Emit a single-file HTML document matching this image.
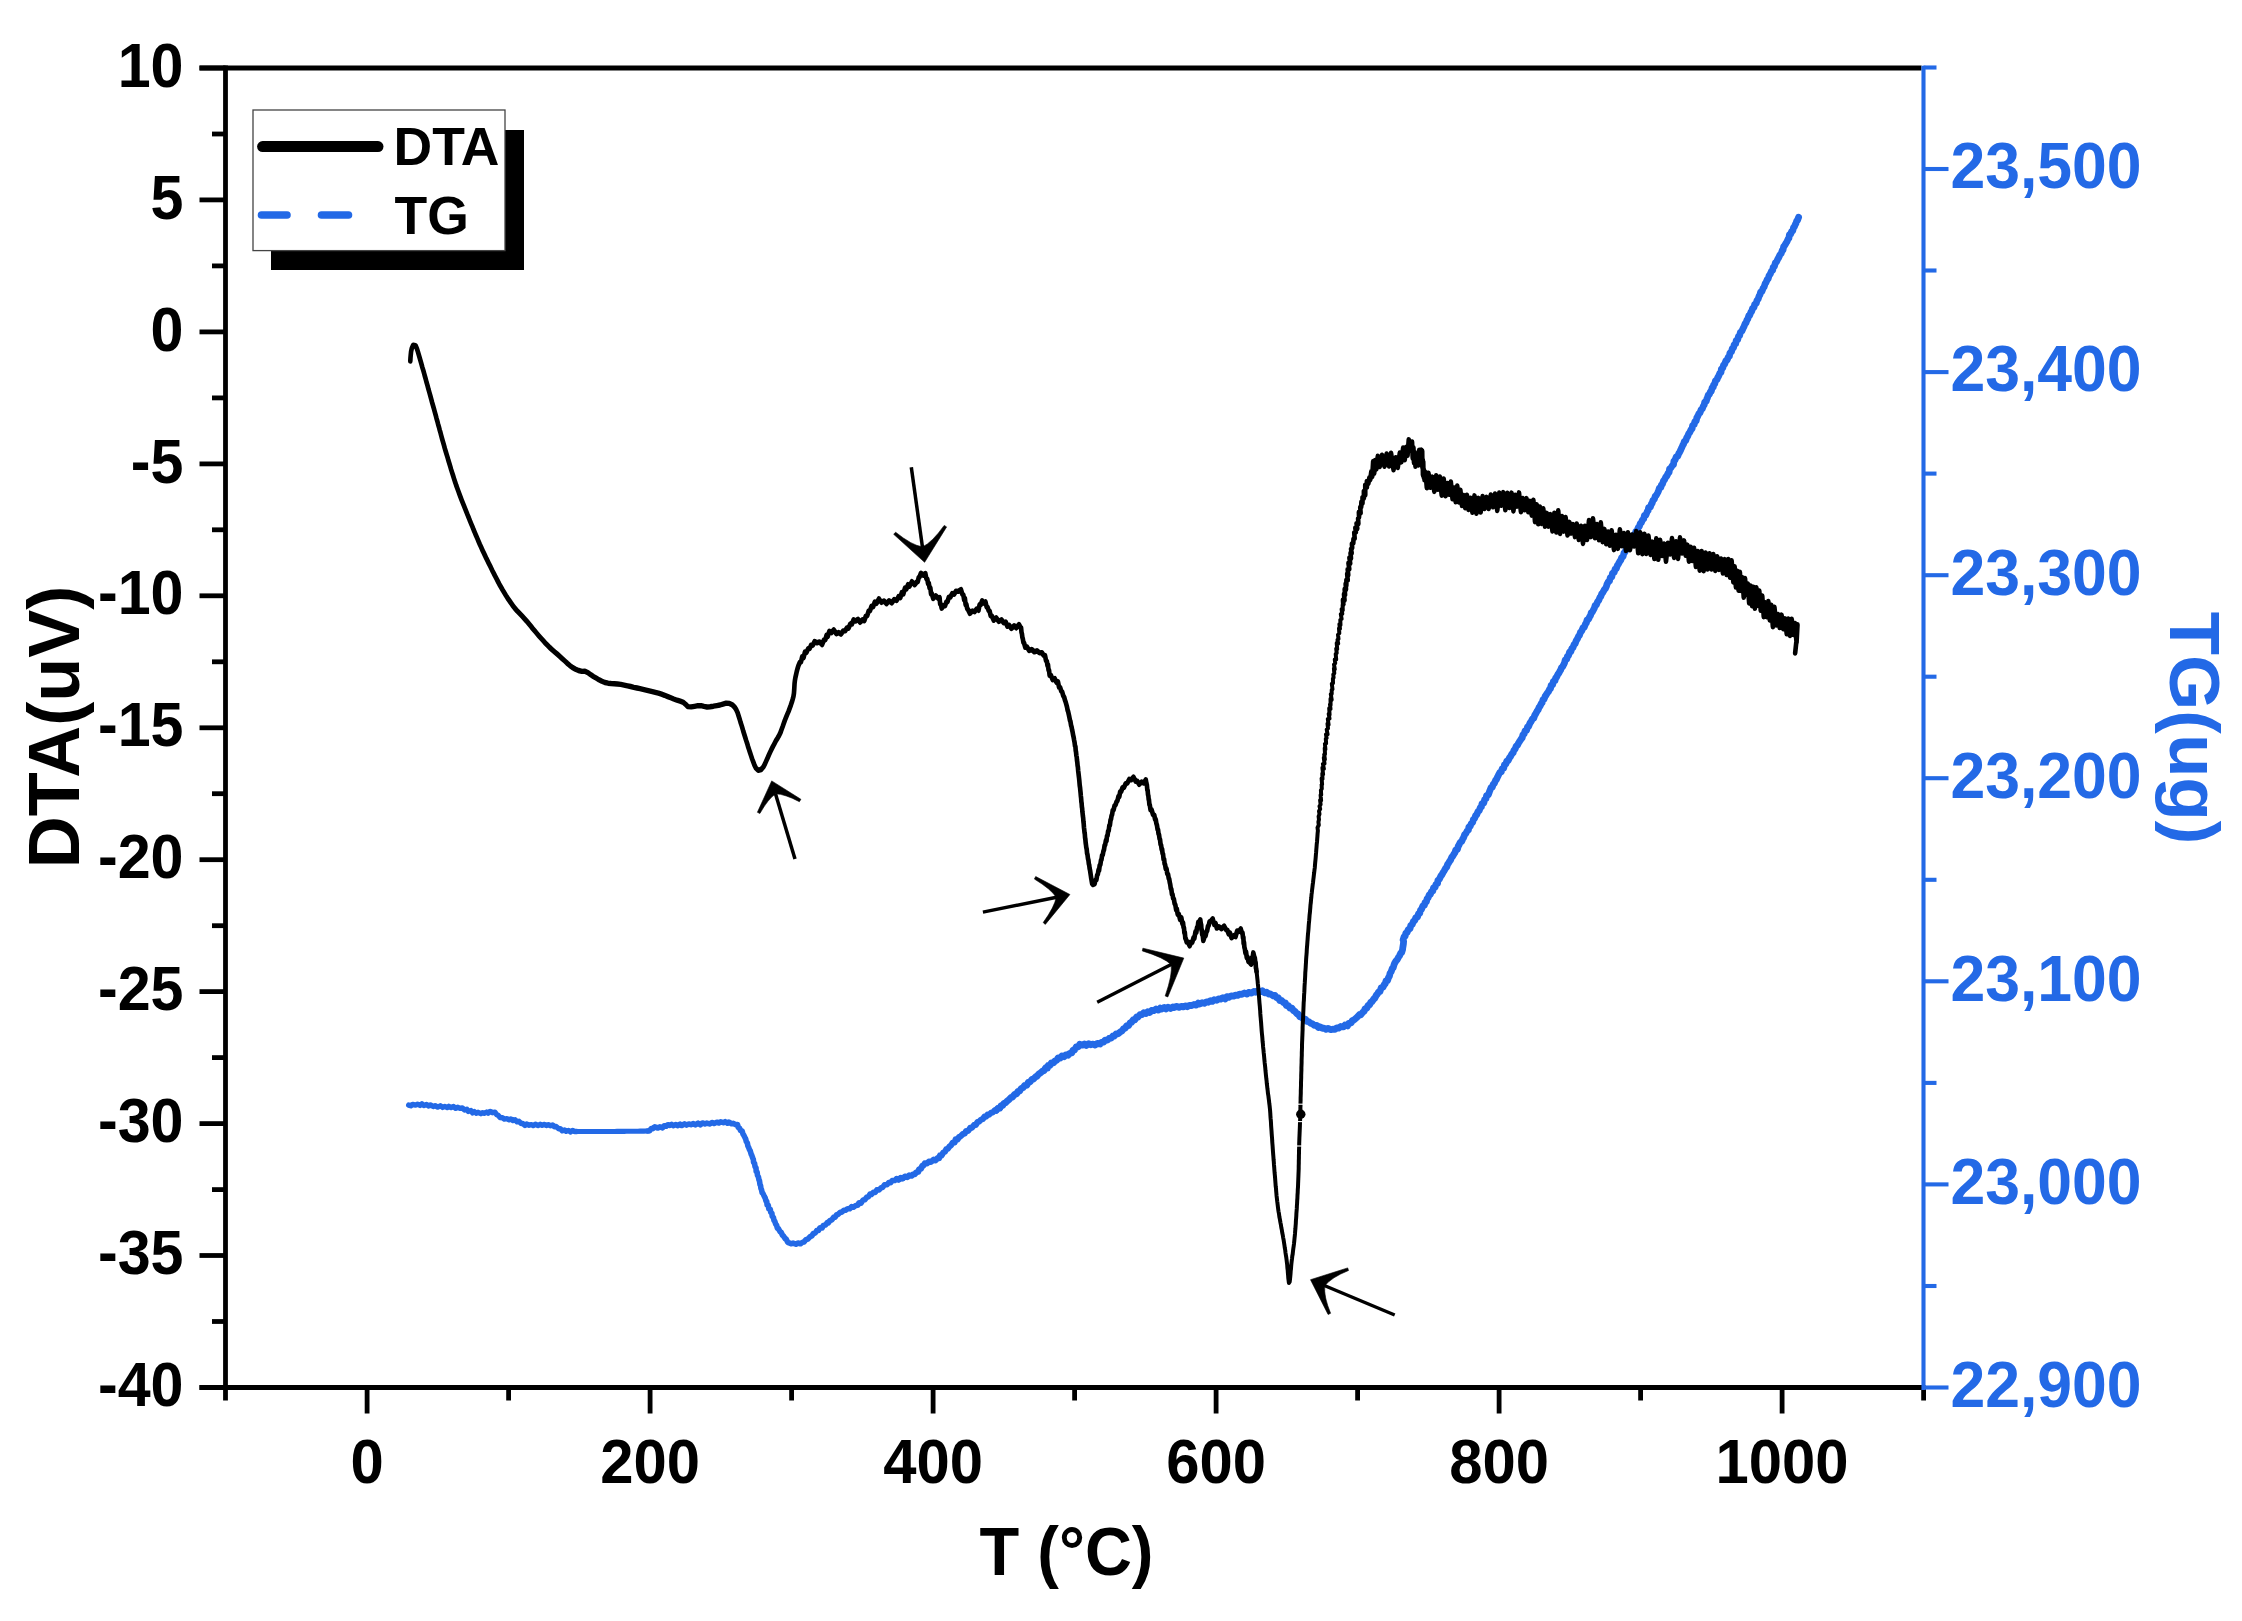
<!DOCTYPE html>
<html lang="en"><head><meta charset="utf-8"><title>DTA / TG</title>
<style>html,body{margin:0;padding:0;background:#fff}svg{display:block}</style></head>
<body>
<svg width="2242" height="1621" viewBox="0 0 2242 1621">
<rect width="2242" height="1621" fill="#fff"/>
<g stroke="#000" stroke-width="4.8" fill="none" stroke-linecap="butt">
<line x1="199.5" y1="68.0" x2="1921.5" y2="68.0"/>
<line x1="225.5" y1="65.6" x2="225.5" y2="1400.5"/>
<line x1="199.5" y1="1387.5" x2="1925.5" y2="1387.5"/>
<line x1="199.5" y1="68.0" x2="225.5" y2="68.0"/>
<line x1="212.0" y1="134.0" x2="225.5" y2="134.0"/>
<line x1="199.5" y1="199.9" x2="225.5" y2="199.9"/>
<line x1="212.0" y1="265.9" x2="225.5" y2="265.9"/>
<line x1="199.5" y1="331.9" x2="225.5" y2="331.9"/>
<line x1="212.0" y1="397.9" x2="225.5" y2="397.9"/>
<line x1="199.5" y1="463.9" x2="225.5" y2="463.9"/>
<line x1="212.0" y1="529.8" x2="225.5" y2="529.8"/>
<line x1="199.5" y1="595.8" x2="225.5" y2="595.8"/>
<line x1="212.0" y1="661.8" x2="225.5" y2="661.8"/>
<line x1="199.5" y1="727.8" x2="225.5" y2="727.8"/>
<line x1="212.0" y1="793.7" x2="225.5" y2="793.7"/>
<line x1="199.5" y1="859.7" x2="225.5" y2="859.7"/>
<line x1="212.0" y1="925.7" x2="225.5" y2="925.7"/>
<line x1="199.5" y1="991.6" x2="225.5" y2="991.6"/>
<line x1="212.0" y1="1057.6" x2="225.5" y2="1057.6"/>
<line x1="199.5" y1="1123.6" x2="225.5" y2="1123.6"/>
<line x1="212.0" y1="1189.6" x2="225.5" y2="1189.6"/>
<line x1="199.5" y1="1255.5" x2="225.5" y2="1255.5"/>
<line x1="212.0" y1="1321.5" x2="225.5" y2="1321.5"/>
<line x1="199.5" y1="1387.5" x2="225.5" y2="1387.5"/>
<line x1="367.1" y1="1387.5" x2="367.1" y2="1413.5"/>
<line x1="508.6" y1="1387.5" x2="508.6" y2="1400.5"/>
<line x1="650.1" y1="1387.5" x2="650.1" y2="1413.5"/>
<line x1="791.6" y1="1387.5" x2="791.6" y2="1400.5"/>
<line x1="933.1" y1="1387.5" x2="933.1" y2="1413.5"/>
<line x1="1074.6" y1="1387.5" x2="1074.6" y2="1400.5"/>
<line x1="1216.1" y1="1387.5" x2="1216.1" y2="1413.5"/>
<line x1="1357.6" y1="1387.5" x2="1357.6" y2="1400.5"/>
<line x1="1499.1" y1="1387.5" x2="1499.1" y2="1413.5"/>
<line x1="1640.6" y1="1387.5" x2="1640.6" y2="1400.5"/>
<line x1="1782.1" y1="1387.5" x2="1782.1" y2="1413.5"/>
<line x1="1923.6" y1="1387.5" x2="1923.6" y2="1400.5"/>
</g>
<g stroke="#2369e6" stroke-width="4.1" fill="none">
<line x1="1923.5" y1="65.7" x2="1923.5" y2="1390.0"/>
<line x1="1923.5" y1="1387.5" x2="1948.5" y2="1387.5"/>
<line x1="1923.5" y1="1286.0" x2="1936.5" y2="1286.0"/>
<line x1="1923.5" y1="1184.4" x2="1948.5" y2="1184.4"/>
<line x1="1923.5" y1="1082.9" x2="1936.5" y2="1082.9"/>
<line x1="1923.5" y1="981.3" x2="1948.5" y2="981.3"/>
<line x1="1923.5" y1="879.8" x2="1936.5" y2="879.8"/>
<line x1="1923.5" y1="778.2" x2="1948.5" y2="778.2"/>
<line x1="1923.5" y1="676.7" x2="1936.5" y2="676.7"/>
<line x1="1923.5" y1="575.2" x2="1948.5" y2="575.2"/>
<line x1="1923.5" y1="473.6" x2="1936.5" y2="473.6"/>
<line x1="1923.5" y1="372.1" x2="1948.5" y2="372.1"/>
<line x1="1923.5" y1="270.5" x2="1936.5" y2="270.5"/>
<line x1="1923.5" y1="169.0" x2="1948.5" y2="169.0"/>
<line x1="1923.5" y1="67.5" x2="1936.5" y2="67.5"/>
</g>
<g font-family="'Liberation Sans', Arial, Helvetica, sans-serif" font-weight="bold" font-size="59.2" fill="#000">
<text transform="translate(183.5 86.6) scale(1 1.05)" text-anchor="end">10</text>
<text transform="translate(183.5 218.5) scale(1 1.05)" text-anchor="end">5</text>
<text transform="translate(183.5 350.5) scale(1 1.05)" text-anchor="end">0</text>
<text transform="translate(183.5 482.5) scale(1 1.05)" text-anchor="end">-5</text>
<text transform="translate(183.5 614.4) scale(1 1.05)" text-anchor="end">-10</text>
<text transform="translate(183.5 746.4) scale(1 1.05)" text-anchor="end">-15</text>
<text transform="translate(183.5 878.3) scale(1 1.05)" text-anchor="end">-20</text>
<text transform="translate(183.5 1010.2) scale(1 1.05)" text-anchor="end">-25</text>
<text transform="translate(183.5 1142.2) scale(1 1.05)" text-anchor="end">-30</text>
<text transform="translate(183.5 1274.1) scale(1 1.05)" text-anchor="end">-35</text>
<text transform="translate(183.5 1406.1) scale(1 1.05)" text-anchor="end">-40</text>
<text transform="translate(367.1 1483) scale(1 1.05)" text-anchor="middle" font-size="59.8">0</text>
<text transform="translate(650.1 1483) scale(1 1.05)" text-anchor="middle" font-size="59.8">200</text>
<text transform="translate(933.1 1483) scale(1 1.05)" text-anchor="middle" font-size="59.8">400</text>
<text transform="translate(1216.1 1483) scale(1 1.05)" text-anchor="middle" font-size="59.8">600</text>
<text transform="translate(1499.1 1483) scale(1 1.05)" text-anchor="middle" font-size="59.8">800</text>
<text transform="translate(1782.1 1483) scale(1 1.05)" text-anchor="middle" font-size="59.8">1000</text>
</g>
<g font-family="'Liberation Sans', Arial, Helvetica, sans-serif" font-weight="bold" font-size="62.5" fill="#2369e6">
<text transform="translate(1950.5 1406.8) scale(1 1.04)">22,900</text>
<text transform="translate(1950.5 1203.7) scale(1 1.04)">23,000</text>
<text transform="translate(1950.5 1000.6) scale(1 1.04)">23,100</text>
<text transform="translate(1950.5 797.5) scale(1 1.04)">23,200</text>
<text transform="translate(1950.5 594.5) scale(1 1.04)">23,300</text>
<text transform="translate(1950.5 391.4) scale(1 1.04)">23,400</text>
<text transform="translate(1950.5 188.3) scale(1 1.04)">23,500</text>
</g>
<text transform="translate(1066.5 1575) scale(1 1.04)" text-anchor="middle" font-family="'Liberation Sans', Arial, Helvetica, sans-serif" font-weight="bold" font-size="65" fill="#000">T (°C)</text>
<text transform="translate(79 727) rotate(-90)" text-anchor="middle" font-family="'Liberation Sans', Arial, Helvetica, sans-serif" font-weight="bold" font-size="72" fill="#000">DTA(uV)</text>
<text transform="translate(2169.5 728) rotate(90)" text-anchor="middle" font-family="'Liberation Sans', Arial, Helvetica, sans-serif" font-weight="bold" font-size="71" fill="#2369e6">TG(ug)</text>
<path d="M996.2 1110.3 L998.0 1108.4 L999.7 1108.2 L1001.1 1105.8 L1002.6 1105.4 L1004.1 1103.3 L1005.7 1102.6 L1007.6 1100.7 L1008.9 1099.8 L1011.0 1097.5 L1012.4 1097.2 L1014.5 1094.5 L1016.7 1093.7 L1017.8 1091.6 L1019.6 1091.0 L1021.5 1088.3 L1023.0 1087.7 L1024.8 1085.3 L1026.7 1085.3 L1028.3 1082.3 L1030.0 1082.0 L1032.0 1079.4 L1033.4 1079.1 L1035.9 1076.5 L1036.9 1076.3 L1038.7 1074.0 L1040.4 1073.1 L1042.6 1071.1 L1043.9 1070.8 L1045.7 1067.7 L1047.5 1068.1 L1048.3 1065.3 L1050.1 1065.4 L1051.3 1062.9 L1053.6 1062.8 L1054.9 1060.9 L1056.8 1060.3 L1058.1 1057.8 L1060.2 1058.2 L1062.0 1055.9 L1063.9 1056.8 L1065.8 1054.8 L1068.0 1055.3 L1069.7 1053.3 L1071.7 1053.0 L1073.1 1050.1 L1074.6 1049.8 L1076.1 1047.0 L1078.4 1046.8 L1079.7 1044.3 L1082.3 1045.2 L1084.4 1044.0 L1086.3 1045.4 L1088.8 1043.6 L1090.8 1044.8 L1093.1 1044.1 L1095.2 1045.0 L1097.5 1043.4 L1100.1 1044.0 L1101.4 1042.4 L1103.7 1042.1 L1105.0 1040.2 L1107.6 1040.1 L1109.1 1038.4 L1111.2 1038.1 L1113.0 1035.9 L1114.3 1036.0 L1116.1 1033.9 L1117.9 1033.9 L1120.4 1031.8 L1122.0 1031.0 L1123.3 1029.0 L1125.2 1028.2 L1126.8 1025.7 L1128.6 1025.6 L1130.1 1022.9 L1131.4 1022.4 L1133.5 1019.6 L1134.8 1019.8 L1136.7 1017.0 L1138.0 1017.0 L1140.0 1014.6 L1142.0 1014.5 L1143.8 1012.8 L1146.0 1013.5 L1147.8 1011.8 L1149.8 1012.5 L1151.6 1010.5 L1153.7 1010.7 L1156.1 1009.0 L1158.4 1010.1 L1160.3 1008.1 L1161.9 1009.0 L1164.3 1007.4 L1166.0 1008.9 L1168.1 1007.1 L1170.6 1008.5 L1172.8 1007.0 L1174.3 1007.6 L1176.7 1006.3 L1179.1 1007.4 L1181.4 1006.4 L1183.3 1006.8 L1185.6 1005.8 L1187.3 1006.7 L1189.4 1005.3 L1191.3 1005.7 L1194.0 1004.5 L1196.2 1005.1 L1198.2 1003.1 L1199.7 1004.0 L1202.1 1002.7 L1204.2 1003.3 L1206.5 1001.8 L1208.3 1002.3 L1210.7 1000.6 L1212.3 1001.4 L1214.2 999.7 L1216.7 1000.3 L1218.5 998.9 L1220.7 999.2 L1223.0 997.7 L1225.3 998.9 L1226.8 996.6 L1228.9 997.3 L1231.2 995.9 L1233.5 996.2 L1235.3 995.2 L1237.7 995.4 L1239.6 994.1 L1242.0 994.3 L1244.5 993.0 L1247.0 994.1 L1248.7 992.4 L1251.6 993.1 L1253.9 991.4 L1255.6 992.2 L1257.6 991.0 L1260.3 991.7 L1262.2 990.7 L1264.7 992.8 L1266.6 992.1 L1268.7 994.1 L1270.5 994.0 L1273.3 995.8 L1274.9 995.4 L1276.6 997.6 L1278.2 997.6 L1279.7 1000.5 L1281.6 1000.5 L1283.6 1002.7 L1285.3 1002.8 L1286.3 1005.5 L1288.4 1005.6 L1289.8 1008.0 L1292.0 1008.2 L1293.5 1010.6 L1295.0 1011.3 L1297.1 1014.0 L1298.1 1013.9 L1299.8 1016.8 L1302.0 1016.9 L1303.2 1019.1 L1305.4 1019.1 L1306.8 1021.4 L1308.5 1021.6 L1311.0 1023.4 L1312.4 1023.7 L1314.2 1025.3 L1316.6 1025.3 L1318.3 1027.5 L1319.6 1026.7 L1322.4 1028.3 L1324.0 1028.1 L1326.0 1029.3 L1328.0 1028.5 L1330.8 1029.7 L1332.8 1029.2 L1335.0 1029.3 L1336.8 1027.8 L1338.5 1028.2 L1340.8 1026.5 L1343.5 1026.9 L1345.0 1025.0 L1347.5 1025.9 L1348.8 1023.3 L1351.2 1022.9 L1352.2 1020.7 L1353.9 1020.0 L1356.2 1017.9 L1357.3 1017.1 L1359.6 1014.5 L1360.7 1014.8 L1362.9 1012.1 L1364.1 1011.4 L1365.0 1008.8 L1366.9 1008.0 L1368.2 1005.2 L1369.6 1004.8 L1370.9 1002.0 L1372.0 1001.7 L1374.0 998.6 L1374.7 998.3 L1376.5 994.9 L1377.3 994.4 L1378.5 991.9 L1380.0 991.4 L1381.1 987.9 L1383.0 987.1 L1384.4 984.4 L1385.2 984.0 L1386.0 980.9 L1387.5 980.6 L1388.5 977.6 L1389.4 976.2 L1390.1 973.1 L1391.1 971.9 L1392.3 968.4 L1393.1 967.9 L1394.1 964.6 L1394.5 963.5 L1396.1 960.7 L1397.2 959.7 L1398.6 957.0 L1399.4 956.0 L1400.8 953.0 L1401.6 952.7 L1402.6 949.5 L1402.7 948.2 L1403.2 945.1 L1403.4 944.0 L1403.6 941.2 L1403.1 940.0 L1404.0 936.9 L1405.1 936.2 L1405.8 933.2 L1407.1 932.4 L1408.3 929.5 L1410.0 928.7 L1410.8 925.4 L1412.3 924.3 L1413.4 921.3 L1414.9 920.3 L1415.7 917.8 L1417.5 916.9 L1418.5 913.9 L1419.7 913.3 L1420.6 909.8 L1421.5 909.4 L1422.8 905.9 L1424.4 905.3 L1425.0 902.5 L1426.4 901.7 L1427.1 898.7 L1428.1 897.8 L1429.2 894.8 L1430.4 894.3 L1431.5 891.5 L1432.8 890.9 L1433.5 887.8 L1435.0 887.3 L1436.0 884.3 L1437.6 883.3 L1437.9 880.4 L1439.4 879.2 L1440.9 875.8 L1441.7 875.1 L1443.3 872.1 L1444.0 871.1 L1445.4 868.6 L1446.7 867.1 L1447.6 864.4 L1448.3 863.5 L1449.8 861.0 L1450.4 860.3 L1451.8 857.0 L1452.5 856.6 L1454.1 853.8 L1454.9 852.7 L1455.8 849.9 L1457.4 849.4 L1458.3 845.9 L1458.9 845.2 L1460.2 842.4 L1461.8 841.4 L1462.8 838.8 L1463.4 838.1 L1464.7 834.5 L1465.7 833.7 L1467.0 831.2 L1468.4 830.0 L1468.9 826.9 L1470.2 826.2 L1471.2 823.6 L1472.7 822.4 L1473.3 819.6 L1474.6 818.5 L1475.6 815.6 L1476.6 814.9 L1478.0 811.5 L1479.3 810.5 L1480.2 807.7 L1481.4 806.8 L1482.0 803.7 L1483.8 803.0 L1484.6 799.7 L1486.0 798.6 L1486.6 795.5 L1488.3 795.0 L1489.4 791.8 L1489.8 790.8 L1491.0 787.7 L1492.3 787.1 L1493.3 784.2 L1494.3 783.4 L1495.7 780.1 L1496.5 779.4 L1497.8 776.4 L1498.3 775.4 L1499.9 772.5 L1501.3 771.7 L1502.2 768.6 L1503.7 768.4 L1504.4 764.9 L1505.9 763.9 L1506.8 761.1 L1508.2 760.5 L1509.5 757.7 L1510.4 756.8 L1511.8 754.0 L1513.1 752.8 L1514.0 750.2 L1515.2 748.9 L1516.2 746.1 L1517.6 745.0 L1518.8 742.6 L1519.7 741.3 L1521.4 738.6 L1522.1 738.1 L1522.9 734.9 L1524.1 733.9 L1525.1 730.7 L1526.5 730.4 L1527.5 727.1 L1528.6 726.5 L1530.0 723.0 L1530.9 721.9 L1532.5 718.7 L1533.7 718.3 L1534.7 715.3 L1535.4 714.3 L1537.1 711.1 L1538.0 710.1 L1539.1 707.4 L1540.0 706.2 L1541.3 703.5 L1542.1 702.9 L1543.0 699.7 L1543.9 699.4 L1545.1 696.4 L1545.7 695.6 L1547.3 693.0 L1548.4 691.8 L1549.7 689.0 L1550.5 688.5 L1551.1 685.4 L1552.7 684.6 L1553.4 681.3 L1555.0 680.6 L1555.7 677.7 L1556.5 677.3 L1558.0 674.1 L1558.7 673.5 L1560.1 670.7 L1560.6 670.2 L1561.5 667.5 L1562.6 666.8 L1564.1 663.7 L1564.5 663.1 L1565.2 659.9 L1566.8 659.2 L1567.3 656.5 L1568.6 655.5 L1569.5 652.1 L1570.8 651.8 L1571.9 648.3 L1572.9 647.7 L1574.1 644.6 L1575.1 643.7 L1576.3 640.5 L1577.3 639.1 L1578.6 636.2 L1579.5 635.3 L1580.4 632.4 L1581.7 631.0 L1582.9 627.9 L1584.3 627.2 L1585.5 623.8 L1586.3 623.0 L1587.1 620.0 L1588.5 619.2 L1589.9 616.2 L1590.6 615.4 L1591.2 612.6 L1592.2 612.2 L1593.8 609.1 L1594.4 608.0 L1595.2 605.3 L1596.4 604.8 L1597.5 601.9 L1598.7 600.4 L1599.9 597.4 L1600.8 596.5 L1601.7 593.9 L1602.7 592.8 L1604.1 590.1 L1605.4 588.6 L1606.5 586.1 L1606.9 584.6 L1608.4 581.5 L1609.5 581.0 L1610.3 577.5 L1611.8 576.8 L1612.5 573.2 L1614.2 572.3 L1615.1 569.1 L1616.3 568.6 L1617.4 565.4 L1618.1 564.5 L1619.8 561.4 L1620.7 560.2 L1621.7 557.5 L1623.1 556.5 L1624.0 553.0 L1624.9 552.3 L1625.9 549.8 L1627.3 548.7 L1627.9 545.8 L1629.0 544.6 L1630.1 541.9 L1631.3 541.5 L1632.2 538.4 L1633.4 537.3 L1634.0 534.6 L1634.9 534.4 L1635.8 531.6 L1637.1 530.4 L1638.3 527.4 L1639.4 526.4 L1640.2 523.6 L1641.3 522.7 L1642.4 519.9 L1643.7 518.9 L1644.4 515.4 L1645.9 515.1 L1647.2 511.6 L1648.1 510.6 L1648.6 507.5 L1650.4 507.0 L1651.4 504.0 L1652.1 503.3 L1653.0 500.2 L1654.3 499.3 L1655.3 496.1 L1656.2 495.5 L1657.8 492.5 L1658.4 491.2 L1659.4 488.0 L1660.9 487.3 L1661.4 484.8 L1662.4 484.2 L1663.5 480.7 L1664.4 479.9 L1665.8 477.0 L1666.8 476.0 L1668.1 473.2 L1669.1 472.4 L1669.6 468.8 L1670.8 468.0 L1672.5 465.3 L1673.5 464.5 L1673.9 461.1 L1675.0 460.2 L1676.2 456.8 L1677.8 456.1 L1678.8 453.4 L1679.7 452.2 L1680.9 449.5 L1681.5 448.3 L1682.8 445.2 L1683.4 444.3 L1684.4 441.3 L1685.7 440.8 L1686.7 437.7 L1687.7 436.3 L1688.8 433.5 L1689.7 432.5 L1691.1 429.6 L1692.1 428.7 L1692.6 425.6 L1694.2 424.5 L1694.8 421.7 L1696.2 420.8 L1696.8 417.8 L1697.5 416.8 L1698.9 413.7 L1699.9 412.9 L1701.1 409.8 L1702.3 408.7 L1703.3 406.1 L1704.2 404.8 L1704.7 402.1 L1706.3 401.1 L1707.1 398.1 L1707.3 398.2 L1708.2 395.1 L1709.3 394.6 L1710.5 391.5 L1711.3 391.3 L1712.1 387.8 L1713.3 387.1 L1713.6 384.8 L1714.7 383.9 L1715.5 380.6 L1717.0 379.7 L1717.8 377.3 L1718.5 376.4 L1720.0 372.9 L1721.0 372.3 L1721.4 369.0 L1722.8 368.0 L1723.6 364.8 L1724.6 364.2 L1725.9 360.8 L1727.1 360.1 L1728.2 357.2 L1729.4 356.2 L1729.9 353.0 L1731.5 351.6 L1732.2 348.7 L1733.5 347.7 L1734.2 344.6 L1735.7 343.7 L1736.2 340.5 L1737.7 339.7 L1738.5 336.2 L1739.6 335.6 L1740.4 332.3 L1741.9 331.0 L1743.2 328.1 L1743.8 327.1 L1745.0 323.8 L1745.9 323.1 L1747.0 319.9 L1747.7 319.2 L1748.8 315.7 L1749.7 315.3 L1750.9 312.1 L1751.7 311.4 L1752.6 308.3 L1754.0 307.4 L1754.6 304.6 L1756.3 303.1 L1757.0 300.3 L1758.1 299.2 L1759.1 296.0 L1759.9 294.9 L1760.6 292.1 L1761.9 291.4 L1763.2 288.1 L1764.1 287.1 L1765.2 283.6 L1765.9 282.8 L1767.2 279.6 L1768.2 278.7 L1769.0 275.8 L1770.1 274.3 L1771.5 271.1 L1772.7 270.2 L1773.2 267.1 L1774.4 266.4 L1775.4 262.7 L1776.5 261.9 L1778.0 258.6 L1778.5 258.0 L1780.0 254.8 L1781.2 253.5 L1782.2 250.5 L1783.0 250.0 L1783.7 246.4 L1784.6 245.7 L1786.1 243.0 L1787.0 241.6 L1788.1 239.0 L1788.9 238.3 L1789.4 234.8 L1790.6 234.1 L1791.7 231.4 L1792.7 230.9 L1793.6 227.4 L1794.3 226.9 L1795.5 224.0 L1796.0 223.5 L1796.7 220.7 L1797.4 220.5 L1798.6 217.3" fill="none" stroke="#2369e6" stroke-width="6.8" stroke-linejoin="round" stroke-linecap="round"/>
<path d="M896.7 1178.9 L898.7 1179.7 L900.8 1177.9 L902.7 1178.5 L905.0 1176.5 L907.2 1177.2 L909.3 1175.4 L911.5 1175.8 L913.5 1174.2 L914.8 1174.3 L916.2 1172.4 L918.2 1171.9 L919.1 1169.3 L921.0 1168.6 L922.3 1165.8 L923.3 1165.7 L924.8 1163.2 L927.1 1163.4 L928.9 1161.6 L930.9 1162.0 L933.7 1159.7 L935.4 1160.5 L937.6 1158.1 L939.2 1158.1 L940.0 1155.4 L941.6 1155.4 L943.3 1152.5 L944.9 1151.8 L946.2 1149.3 L947.8 1148.9 L949.5 1146.4 L951.1 1145.3 L952.6 1142.8 L954.7 1142.4 L955.6 1139.4 L957.6 1139.5 L959.0 1137.1 L960.5 1136.4 L962.9 1134.0 L964.7 1133.6 L966.0 1131.0 L968.2 1131.0 L970.2 1127.8 L971.8 1127.9 L974.2 1124.9 L975.7 1125.0 L977.6 1122.0 L979.1 1121.6 L981.0 1119.7 L982.9 1118.9 L984.5 1116.6 L986.2 1116.6 L987.5 1114.6 L989.2 1114.6 L991.4 1112.5 L992.7 1112.5 L994.7 1110.3 L996.2 1110.3 L998.0 1108.4 L999.7 1108.2 L1001.1 1105.8 L1002.6 1105.4" fill="none" stroke="#2369e6" stroke-width="6.1" stroke-linejoin="round" stroke-linecap="round"/>
<path d="M647.5 1131.0 L649.5 1130.7 L651.3 1128.5 L652.8 1128.7 L654.8 1126.9 L657.8 1128.0 L659.8 1126.8 L662.6 1127.8 L664.2 1125.8 L666.1 1126.3 L667.9 1124.7 L669.9 1125.4 L671.6 1124.4 L673.2 1125.7 L675.8 1124.6 L677.9 1125.6 L680.1 1124.2 L681.7 1125.5 L684.5 1123.8 L686.6 1125.1 L688.8 1124.0 L690.9 1124.7 L693.3 1123.6 L695.4 1124.9 L698.1 1123.2 L700.3 1124.8 L702.4 1123.0 L704.9 1123.9 L706.9 1123.1 L709.5 1123.9 L712.2 1122.5 L714.1 1123.5 L716.8 1122.2 L719.0 1123.0 L720.7 1121.8 L723.3 1122.7 L725.2 1121.7 L727.4 1123.2 L728.9 1122.0 L731.7 1123.8 L733.3 1123.4 L735.5 1124.7 L737.5 1124.5 L738.3 1127.4 L739.5 1128.1 L740.5 1130.4 L742.2 1131.1 L743.0 1134.1 L743.8 1135.2 L745.1 1137.9 L745.6 1138.7 L746.3 1141.6 L747.3 1142.9 L747.9 1146.0 L748.5 1147.1 L749.6 1149.9 L750.2 1150.7 L751.2 1154.3 L751.7 1155.1 L752.7 1158.0 L753.3 1159.2 L753.6 1162.4 L754.6 1163.5 L755.0 1166.5 L756.0 1167.9 L756.2 1171.5 L757.1 1172.0 L757.5 1175.4 L758.4 1176.9 L759.0 1180.0 L759.5 1180.8 L760.0 1184.5 L760.6 1185.7 L760.9 1188.3 L761.5 1189.6 L762.2 1192.8 L763.0 1193.6 L764.4 1196.6 L765.2 1198.0 L766.0 1200.9 L766.7 1201.3 L767.1 1204.9 L768.3 1205.4 L768.8 1208.8 L770.3 1209.3 L770.7 1212.2 L771.9 1213.3 L772.2 1216.2 L773.4 1217.4 L774.0 1220.5 L774.8 1221.3 L775.7 1224.1 L776.6 1225.3 L777.4 1228.4 L778.4 1228.6 L780.1 1231.8 L781.1 1232.3 L782.5 1235.3 L783.3 1235.7 L785.1 1238.6 L786.2 1239.1 L787.6 1242.0 L788.5 1242.7 L791.0 1243.7 L793.0 1243.1 L795.9 1244.2 L798.1 1243.0 L800.5 1243.8 L802.3 1242.4 L803.9 1242.0 L806.0 1239.7 L807.8 1239.1 L809.9 1236.8 L811.8 1235.9 L813.3 1233.5 L815.3 1233.0 L816.7 1230.5 L818.5 1230.5 L819.9 1227.8 L822.1 1228.0 L823.3 1225.5 L825.4 1225.1 L827.2 1222.7 L828.3 1223.0 L829.8 1220.7 L831.8 1219.9 L833.6 1217.3 L835.2 1217.1 L836.5 1214.8 L837.9 1214.6 L840.3 1212.2 L841.7 1212.1 L843.8 1210.3 L845.5 1210.3 L847.6 1208.7 L849.7 1208.7 L851.6 1206.7 L853.4 1207.3 L855.8 1205.5 L857.8 1205.3 L859.0 1202.8 L861.0 1203.1 L863.1 1200.0 L864.8 1199.7 L866.7 1197.2 L868.4 1196.8 L870.1 1194.1 L871.3 1194.5 L873.3 1192.3 L875.3 1192.4 L876.8 1189.9 L879.1 1189.9 L881.2 1187.7 L882.6 1187.5 L884.5 1184.7 L887.0 1184.8 L888.8 1182.6 L890.6 1182.7 L892.2 1180.6 L894.7 1180.5 L896.7 1178.9 L898.7 1179.7 L900.8 1177.9 L902.7 1178.5" fill="none" stroke="#2369e6" stroke-width="5.6" stroke-linejoin="round" stroke-linecap="round"/>
<path d="M408.7 1105.1 L410.8 1105.8 L412.6 1104.4 L415.6 1105.1 L417.5 1104.3 L420.0 1105.4 L421.9 1103.9 L423.8 1105.5 L426.5 1104.4 L428.7 1105.9 L430.4 1104.9 L433.2 1106.5 L435.1 1105.6 L437.7 1107.1 L440.3 1105.8 L442.6 1107.4 L444.8 1106.4 L447.2 1107.5 L448.8 1106.3 L451.2 1107.6 L453.6 1106.6 L455.7 1108.3 L457.9 1107.3 L460.1 1108.4 L462.4 1108.0 L464.6 1110.0 L466.8 1109.2 L468.2 1111.4 L470.9 1110.6 L472.6 1112.8 L474.3 1111.6 L476.5 1113.3 L478.1 1112.3 L480.9 1113.7 L482.7 1112.7 L484.2 1113.3 L486.7 1112.1 L488.1 1113.1 L490.1 1111.4 L492.4 1112.7 L494.9 1112.2 L496.9 1114.8 L498.1 1115.2 L500.1 1117.5 L502.4 1117.7 L504.3 1119.1 L506.9 1118.7 L509.1 1119.7 L510.8 1118.9 L513.0 1120.6 L515.1 1119.8 L517.1 1121.9 L519.0 1121.3 L521.2 1123.5 L522.8 1123.4 L525.0 1125.4 L526.6 1124.0 L529.2 1125.2 L531.4 1124.6 L533.2 1125.5 L535.7 1124.2 L537.8 1125.6 L540.2 1124.3 L541.7 1125.3 L544.6 1124.4 L546.3 1125.5 L548.3 1124.6 L550.3 1125.8 L552.6 1125.0 L554.4 1126.7 L556.1 1126.5 L558.7 1128.8 L560.3 1128.7 L562.3 1130.8 L564.5 1130.0 L566.2 1131.3 L568.5 1130.4 L570.7 1131.9 L572.6 1130.5 L575.0 1131.5 L576.8 1131.5" fill="none" stroke="#2369e6" stroke-width="5.4" stroke-linejoin="round" stroke-linecap="round"/>
<path d="M575.0 1131.5 L576.8 1131.5 L578.6 1131.5 L580.6 1131.5 L582.7 1131.5 L584.8 1131.5 L587.0 1131.5 L589.3 1131.5 L591.6 1131.5 L593.9 1131.5 L596.3 1131.5 L598.7 1131.5 L601.1 1131.5 L603.4 1131.5 L605.8 1131.5 L608.1 1131.5 L610.3 1131.5 L612.5 1131.5 L614.7 1131.5 L617.0 1131.4 L619.3 1131.4 L621.7 1131.4 L624.1 1131.4 L626.4 1131.3 L628.8 1131.3 L631.2 1131.3 L633.5 1131.2 L635.7 1131.2 L637.9 1131.2 L640.1 1131.1 L642.1 1131.1 L644.0 1131.1 L645.8 1131.0 L647.5 1131.0 L649.5 1130.7" fill="none" stroke="#2369e6" stroke-width="5.1" stroke-linejoin="round" stroke-linecap="round"/>
<path transform="scale(0.860 1)" d="M477.1 361.0 L477.3 358.0 L477.6 355.0 L478.0 351.6 L478.8 348.4 L480.4 345.2 L483.2 345.6 L484.7 348.5 L485.8 351.4 L486.9 354.6 L488.0 357.9 L489.0 360.9 L490.0 363.9 L491.1 367.3 L492.2 370.4 L493.2 373.5 L494.1 376.4 L495.2 379.7 L496.1 382.7 L497.2 385.9 L498.2 389.2 L499.3 392.5 L500.4 395.9 L501.5 399.3 L502.5 402.6 L503.6 405.9 L504.6 408.9 L505.5 411.8 L506.5 414.8 L507.4 417.8 L508.4 420.8 L509.3 423.8 L510.3 426.8 L511.2 429.8 L512.2 432.7 L513.1 435.7 L514.0 438.6 L515.1 441.9 L516.2 445.2 L517.2 448.4 L518.3 451.5 L519.3 454.4 L520.4 457.4 L521.4 460.5 L522.5 463.5 L523.6 466.6 L524.6 469.6 L525.7 472.6 L526.8 475.5 L528.0 478.8 L529.2 482.0 L530.4 485.1 L531.6 488.0 L533.0 491.3 L534.2 494.1 L535.4 496.9 L536.7 499.8 L538.0 502.6 L539.3 505.4 L540.8 508.6 L542.3 511.8 L543.7 514.9 L545.2 518.0 L546.5 520.9 L547.9 523.8 L549.3 526.6 L550.6 529.5 L552.0 532.4 L553.4 535.2 L555.0 538.4 L556.5 541.5 L558.0 544.5 L559.5 547.3 L560.9 550.1 L562.5 552.9 L564.0 555.6 L565.5 558.4 L567.1 561.1 L568.8 564.2 L570.6 567.2 L572.3 570.3 L574.0 573.1 L575.6 575.9 L577.3 578.7 L579.0 581.5 L580.6 584.2 L582.5 587.1 L584.3 589.8 L586.4 592.8 L588.3 595.5 L590.3 598.2 L592.4 600.8 L594.4 603.3 L596.6 605.9 L598.9 608.5 L601.5 611.1 L604.3 613.6 L607.1 616.1 L609.9 618.7 L612.5 621.2 L615.1 623.9 L617.3 626.2 L619.5 628.6 L621.8 630.9 L624.3 633.5 L626.6 635.8 L629.0 638.1 L631.4 640.4 L633.7 642.7 L636.4 645.1 L639.2 647.5 L642.2 649.8 L645.2 652.1 L648.2 654.3 L651.2 656.6 L654.0 658.8 L656.8 661.0 L659.5 663.2 L662.5 665.4 L665.7 667.5 L669.3 669.2 L672.7 670.5 L676.6 671.4 L680.2 671.2 L683.8 672.7 L686.9 674.7 L690.2 676.6 L693.4 678.2 L696.5 679.8 L699.9 681.3 L703.4 682.5 L707.1 683.2 L710.6 683.5 L714.3 683.7 L718.0 684.0 L721.8 684.4 L725.7 685.1 L729.7 685.8 L733.3 686.5 L737.0 687.3 L740.7 688.0 L744.2 688.7 L747.7 689.4 L751.3 690.1 L755.0 690.9 L758.6 691.6 L762.0 692.4 L765.6 693.2 L769.2 694.2 L772.8 695.3 L776.5 696.6 L780.0 697.8 L783.4 699.0 L787.2 700.2 L790.9 701.2 L794.6 702.3 L797.2 704.3 L799.7 706.6 L803.7 706.9 L807.6 706.3 L811.5 705.7 L815.1 705.6 L818.6 706.4 L822.1 707.0 L825.6 706.7 L829.6 706.2 L833.6 705.6 L837.2 705.0 L840.6 704.1 L844.4 703.1 L848.2 703.4 L851.3 704.7 L854.2 707.1 L856.1 709.7 L857.6 712.5 L858.7 715.5 L859.9 718.7 L861.0 722.0 L862.1 724.9 L863.1 727.7 L864.2 731.0 L865.3 734.0 L866.4 737.0 L867.5 740.1 L868.7 743.2 L869.7 746.2 L870.9 749.4 L872.1 752.5 L873.3 755.6 L874.6 759.0 L876.0 762.2 L877.3 765.2 L878.9 768.0 L881.6 770.3 L885.0 769.5 L887.7 766.9 L889.5 763.9 L891.0 760.9 L892.4 758.2 L894.0 755.0 L895.6 752.0 L897.2 749.2 L898.8 746.4 L900.4 743.8 L902.3 740.7 L904.2 738.1 L905.9 735.5 L907.5 732.6 L908.8 729.5 L910.1 726.5 L911.4 723.3 L912.6 720.4 L914.1 717.2 L915.4 714.4 L916.8 711.6 L918.2 708.4 L919.6 705.1 L920.7 702.3 L921.7 699.4 L922.6 696.5 L923.2 693.2 L923.5 689.8 L923.7 686.7 L923.9 683.6 L924.3 680.5 L924.9 677.5 L925.7 674.5 L926.5 671.4 L927.4 668.5 L928.5 665.4 L930.1 662.3 L931.4 661.9 L932.8 656.8 L934.4 657.6 L936.0 652.0 L937.7 652.5 L939.7 648.8 L941.4 648.6 L943.1 645.2 L945.1 645.3 L947.2 641.5 L949.9 642.8 L953.0 641.9 L955.9 644.6 L958.1 639.9 L959.7 639.7 L961.1 635.2 L962.5 636.3 L964.4 631.2 L966.8 632.7 L969.5 629.9 L972.4 633.7 L975.2 632.5 L977.9 634.1 L980.4 631.0 L982.7 630.9 L984.7 628.0 L986.7 628.2 L988.7 624.0 L990.6 624.1 L992.5 619.7 L994.7 621.1 L997.6 619.3 L1000.1 622.3 L1002.9 619.7 L1005.0 620.7 L1006.7 616.3 L1008.4 615.7 L1010.0 611.2 L1011.6 610.8 L1013.4 606.2 L1015.3 606.7 L1017.2 602.0 L1019.2 603.3 L1022.0 598.9 L1024.9 602.4 L1027.9 600.9 L1030.7 603.7 L1033.8 600.8 L1036.8 602.9 L1039.8 599.4 L1042.6 600.5 L1044.9 596.5 L1046.9 597.7 L1048.6 592.5 L1050.4 593.8 L1052.3 588.1 L1054.0 588.9 L1055.9 584.6 L1057.6 586.1 L1060.4 581.7 L1063.6 584.7 L1065.9 582.2 L1067.2 581.5 L1068.3 577.5 L1069.4 576.6 L1070.9 573.2 L1073.8 575.2 L1076.0 573.5 L1077.3 579.0 L1078.3 579.2 L1079.1 583.6 L1080.0 583.2 L1080.9 587.9 L1081.8 587.9 L1082.6 594.0 L1083.5 593.6 L1085.1 598.5 L1088.1 595.8 L1091.1 598.4 L1092.5 597.6 L1093.2 603.9 L1093.9 604.1 L1095.0 608.2 L1097.3 605.5 L1098.9 605.8 L1100.4 602.1 L1101.8 601.6 L1103.3 597.1 L1105.1 597.0 L1107.2 593.6 L1109.3 594.3 L1111.6 591.2 L1114.4 591.4 L1117.4 589.6 L1119.1 594.3 L1120.2 595.0 L1121.1 599.7 L1122.0 598.5 L1122.8 604.6 L1123.7 604.4 L1124.6 608.5 L1125.7 609.6 L1127.8 613.4 L1130.7 611.0 L1133.2 611.7 L1135.6 609.0 L1137.8 610.3 L1139.1 604.6 L1140.4 604.6 L1142.0 600.8 L1144.3 603.2 L1145.9 601.9 L1147.3 607.1 L1148.4 607.3 L1149.6 610.7 L1150.7 611.0 L1151.9 615.6 L1153.3 616.1 L1155.5 620.3 L1158.3 617.9 L1161.5 621.5 L1164.5 619.7 L1167.1 622.8 L1169.4 622.0 L1171.4 626.3 L1173.4 625.2 L1176.1 628.5 L1179.2 625.7 L1181.8 627.8 L1184.8 624.5 L1186.6 627.5 L1187.3 627.9 L1187.8 632.4 L1188.3 633.8 L1188.8 637.4 L1189.3 638.7 L1190.0 642.2 L1190.9 643.3 L1192.2 647.3 L1194.2 646.9 L1196.7 650.6 L1199.6 649.4 L1202.7 651.9 L1205.8 650.8 L1208.8 652.9 L1211.5 652.7 L1213.6 655.4 L1215.1 655.4 L1216.3 660.6 L1217.3 661.4 L1218.0 665.5 L1218.6 664.8 L1219.2 670.0 L1219.8 670.2 L1220.5 675.3 L1221.9 675.1 L1224.0 679.7 L1226.4 678.6 L1228.6 682.5 L1230.2 681.8 L1231.5 687.4 L1232.7 687.4 L1233.9 690.8 L1235.2 692.2 L1236.2 695.4 L1237.4 697.2 L1238.4 700.3 L1239.2 702.2 L1240.0 704.7 L1240.7 707.0 L1241.4 710.1 L1242.1 711.8 L1242.8 714.6 L1243.4 717.0 L1244.1 720.2 L1244.7 721.4 L1245.4 725.3 L1246.0 726.9 L1246.6 729.8 L1247.2 731.9 L1247.8 735.1 L1248.4 737.2 L1249.0 740.3 L1249.5 742.3 L1250.0 745.8 L1250.5 746.8 L1250.8 750.3 L1251.2 752.1 L1251.6 755.6 L1252.0 757.1 L1252.3 760.2 L1252.7 762.5 L1253.0 765.5 L1253.4 767.4 L1253.7 770.8 L1254.0 772.8 L1254.4 775.8 L1254.7 778.0 L1255.0 780.5 L1255.2 782.6 L1255.5 785.5 L1255.9 787.8 L1256.2 790.5 L1256.5 792.9 L1256.8 796.1 L1257.1 798.1 L1257.4 801.7 L1257.7 803.3 L1258.0 806.9 L1258.3 808.3 L1258.6 811.9 L1258.8 813.2 L1259.2 816.3 L1259.5 817.9 L1259.8 821.5 L1260.1 823.5 L1260.4 827.3 L1260.7 829.4 L1261.1 832.7 L1261.4 833.9 L1261.7 837.6 L1262.0 838.9 L1262.4 842.8 L1262.7 844.5 L1263.1 847.4 L1263.6 849.3 L1264.0 853.1 L1264.5 854.6 L1265.1 858.6 L1265.6 860.1 L1266.1 863.9 L1266.5 864.9 L1267.0 868.5 L1267.5 870.3 L1268.0 873.3 L1268.4 875.6 L1268.9 878.5 L1269.3 880.4 L1269.9 883.6 L1270.9 884.6 L1272.8 883.7 L1273.9 879.9 L1274.9 879.7 L1275.8 875.1 L1276.6 874.1 L1277.3 870.1 L1278.0 870.4 L1278.7 865.5 L1279.5 864.7 L1280.2 860.3 L1280.8 859.6 L1281.5 855.3 L1282.3 854.7 L1283.0 851.2 L1283.7 849.8 L1284.4 845.5 L1285.1 844.8 L1285.9 840.6 L1286.6 841.0 L1287.2 836.0 L1287.9 835.4 L1288.5 831.2 L1289.2 830.7 L1289.9 825.5 L1290.6 825.1 L1291.3 820.1 L1291.9 819.0 L1292.5 815.7 L1293.2 814.4 L1293.9 810.3 L1294.9 809.8 L1296.0 805.7 L1297.2 804.7 L1298.3 801.8 L1299.4 800.6 L1300.5 796.5 L1301.5 796.6 L1302.5 791.9 L1303.7 791.5 L1305.2 787.7 L1306.9 787.6 L1309.0 783.6 L1310.8 783.2 L1313.1 779.3 L1315.3 779.9 L1318.0 777.1 L1320.6 781.4 L1322.5 781.3 L1324.7 784.3 L1327.4 781.9 L1329.9 783.1 L1332.3 779.8 L1333.1 783.7 L1333.6 785.2 L1334.1 790.1 L1334.5 790.5 L1334.9 794.7 L1335.3 795.8 L1335.7 799.8 L1336.0 799.7 L1336.5 804.4 L1337.0 805.1 L1337.8 809.9 L1339.1 809.8 L1340.7 814.6 L1342.1 815.0 L1343.2 819.5 L1343.9 819.5 L1344.6 823.4 L1345.3 825.3 L1346.0 829.3 L1346.6 829.8 L1347.1 833.6 L1347.7 834.7 L1348.3 838.7 L1348.9 839.7 L1349.5 844.3 L1350.1 845.2 L1350.8 849.6 L1351.3 849.2 L1351.8 853.3 L1352.4 854.2 L1353.0 859.5 L1353.6 859.2 L1354.2 863.8 L1354.8 864.7 L1355.5 868.7 L1356.4 868.7 L1357.3 873.8 L1358.2 874.3 L1359.0 878.4 L1359.6 879.2 L1360.2 882.5 L1360.7 884.2 L1361.4 888.6 L1362.0 889.2 L1362.7 894.0 L1363.4 894.4 L1364.1 898.2 L1365.0 899.3 L1365.8 903.5 L1366.7 904.9 L1367.6 909.7 L1368.4 908.9 L1369.4 914.3 L1370.7 914.1 L1372.2 919.5 L1373.6 917.6 L1374.8 923.4 L1375.6 922.7 L1376.2 927.5 L1376.7 927.7 L1377.2 933.0 L1377.7 932.5 L1378.3 938.5 L1378.8 938.4 L1379.8 942.1 L1381.2 941.9 L1383.3 945.8 L1385.1 942.2 L1386.4 942.3 L1387.8 937.8 L1388.8 938.3 L1390.1 931.7 L1391.1 932.3 L1391.9 927.4 L1392.7 927.3 L1393.3 922.3 L1394.2 922.2 L1395.7 919.8 L1396.3 923.8 L1396.7 924.8 L1397.1 930.3 L1397.5 929.9 L1397.9 934.7 L1398.4 934.2 L1399.2 940.6 L1400.9 936.1 L1401.9 935.7 L1402.8 931.9 L1403.7 930.6 L1404.6 926.4 L1405.5 925.4 L1406.4 921.8 L1407.7 921.3 L1410.1 918.8 L1412.0 924.6 L1413.4 923.3 L1414.9 928.1 L1417.4 926.7 L1420.4 928.7 L1423.4 926.1 L1425.6 929.6 L1427.3 930.5 L1428.7 934.0 L1430.2 933.0 L1432.0 937.7 L1434.9 935.6 L1436.7 936.6 L1438.6 930.9 L1440.4 931.6 L1442.7 928.9 L1444.1 932.8 L1444.8 933.1 L1445.4 938.1 L1445.8 937.2 L1446.1 943.7 L1446.5 942.2 L1447.0 947.4 L1447.5 948.8 L1448.2 953.2 L1448.9 951.8 L1449.7 957.5 L1450.6 957.1 L1451.7 961.5 L1452.9 962.1 L1454.8 964.2 L1455.6 957.9 L1456.3 959.3 L1457.3 952.8 L1458.5 957.1 L1459.1 958.0 L1459.6 961.9 L1460.0 962.4 L1460.4 968.1 L1460.7 968.6 L1461.1 971.4" fill="none" stroke="#000" stroke-width="5.4" stroke-linejoin="round" stroke-linecap="round"/>
<path transform="scale(0.860 1)" d="M1561.9 604.4 L1561.6 600.0 L1563.4 600.2 L1562.8 594.3 L1564.0 594.9 L1563.6 589.2 L1565.1 589.3 L1564.7 583.9 L1565.5 585.5 L1565.6 580.1 L1567.1 580.1 L1566.5 573.9 L1567.7 574.9 L1567.1 569.4 L1568.9 569.0 L1568.0 563.2 L1570.0 563.4 L1569.1 557.9 L1570.9 558.2 L1570.4 553.1 L1571.7 553.0 L1571.0 549.1 L1572.3 547.8 L1572.0 543.9 L1573.6 543.0 L1573.8 539.0 L1575.2 538.5 L1574.7 532.6 L1576.6 532.1 L1576.0 528.0 L1578.2 528.4 L1577.4 523.6 L1579.5 523.8 L1579.2 518.6 L1580.3 517.1 L1580.1 512.1 L1582.1 512.9 L1581.7 507.3 L1582.8 506.8 L1583.0 501.9 L1584.3 503.1 L1584.3 497.8 L1585.9 498.1 L1585.9 491.4 L1587.5 495.0 L1587.5 485.1 L1589.4 487.3 L1589.4 481.5 L1591.1 483.5 L1592.2 477.9 L1593.3 479.7 L1594.5 471.8 L1595.6 476.6 L1596.7 461.5 L1597.9 473.2 L1599.2 460.4 L1600.5 469.0 L1602.1 456.3 L1604.3 466.5 L1607.0 455.2 L1609.9 466.3 L1612.4 453.9 L1615.2 466.1 L1617.5 453.2 L1620.4 469.8 L1623.0 457.7 L1625.3 467.5 L1627.7 452.9 L1629.5 461.9 L1631.6 448.0 L1633.4 459.9 L1635.3 447.1 L1636.7 455.3 L1638.1 439.6 L1640.1 450.3 L1641.9 441.9 L1642.7 458.1 L1643.5 447.6 L1644.2 462.7 L1645.0 452.5 L1645.9 466.3 L1647.8 454.9 L1649.2 465.0 L1650.2 450.2 L1651.5 456.6 L1652.8 450.1 L1653.3 460.6 L1653.7 451.0 L1654.0 467.7 L1654.3 459.5 L1654.6 475.0 L1654.9 461.6 L1655.3 476.7 L1655.8 470.0 L1656.4 479.8 L1657.6 472.5 L1659.1 487.8 L1661.0 473.1 L1663.2 487.3 L1665.5 477.1 L1667.8 491.4 L1670.0 475.7 L1672.0 489.4 L1674.2 476.9 L1676.4 495.3 L1678.7 478.9 L1680.9 495.9 L1683.0 483.4 L1685.1 494.3 L1687.0 481.9 L1689.0 498.9 L1690.9 487.9 L1692.7 501.8 L1694.5 486.0 L1696.3 502.0 L1698.1 490.1 L1700.0 505.6 L1701.9 495.4 L1703.8 507.8 L1705.7 495.1 L1707.5 509.5 L1709.9 498.2 L1712.1 512.3 L1714.5 495.8 L1716.8 513.3 L1719.2 498.3 L1721.7 512.0 L1724.0 496.4 L1726.2 508.5 L1728.6 497.3 L1731.0 508.5 L1733.5 495.0 L1736.0 506.8 L1738.4 493.9 L1741.0 510.5 L1743.3 493.0 L1745.6 505.3 L1748.0 492.6 L1750.4 509.9 L1752.8 493.1 L1755.2 507.5 L1757.6 493.1 L1759.8 511.0 L1761.9 495.2 L1764.1 506.2 L1766.3 492.8 L1768.5 511.8 L1770.7 498.4 L1772.9 509.8 L1775.0 498.6 L1777.1 511.9 L1779.1 501.3 L1781.1 515.2 L1783.0 500.3 L1784.9 521.8 L1786.8 504.6 L1788.7 523.9 L1790.6 507.0 L1792.5 523.5 L1794.5 508.7 L1796.5 526.4 L1798.6 513.3 L1800.7 526.2 L1802.9 514.6 L1805.2 531.0 L1807.4 513.2 L1809.7 532.1 L1811.9 510.8 L1814.1 533.5 L1816.3 516.4 L1818.4 531.2 L1820.5 517.5 L1822.7 535.1 L1824.9 522.3 L1827.1 533.1 L1829.2 524.5 L1831.4 536.7 L1833.4 523.9 L1835.8 539.6 L1838.4 526.2 L1840.7 543.5 L1843.0 526.1 L1845.4 539.6 L1847.7 520.4 L1850.0 536.7 L1852.3 518.6 L1854.7 537.9 L1856.9 524.5 L1859.3 539.9 L1861.4 522.8 L1863.5 541.7 L1865.6 529.3 L1867.7 543.9 L1869.9 531.9 L1872.0 545.4 L1874.0 530.7 L1876.7 549.7 L1879.0 535.1 L1881.3 548.4 L1883.6 529.6 L1886.0 545.8 L1888.3 533.4 L1890.7 550.6 L1893.0 532.8 L1895.3 549.9 L1897.9 534.9 L1900.1 546.1 L1902.5 531.4 L1904.9 552.9 L1907.3 532.7 L1909.7 553.7 L1912.1 534.1 L1914.3 553.6 L1916.8 535.9 L1919.2 554.5 L1921.4 542.1 L1923.7 558.6 L1925.9 538.8 L1928.2 559.4 L1930.4 540.3 L1932.7 555.6 L1934.9 543.9 L1937.2 561.3 L1939.5 543.2 L1941.9 554.1 L1944.2 538.5 L1946.6 557.5 L1948.9 541.6 L1951.2 558.5 L1953.5 537.8 L1955.9 553.1 L1958.2 540.8 L1960.1 555.3 L1962.0 545.1 L1963.9 561.3 L1965.9 547.2 L1967.8 560.5 L1969.9 548.2 L1972.0 566.6 L1974.2 551.4 L1976.4 570.2 L1978.7 551.4 L1981.0 570.7 L1983.3 552.9 L1985.6 569.0 L1987.9 553.6 L1990.2 569.0 L1992.3 554.5 L1994.5 570.5 L1996.7 556.6 L1999.0 569.4 L2001.2 558.9 L2003.4 573.0 L2005.6 559.6 L2007.7 574.6 L2009.7 559.4 L2011.6 577.3 L2013.5 560.7 L2015.5 582.1 L2017.0 566.7 L2018.5 587.1 L2020.1 571.2 L2021.6 590.4 L2023.1 572.2 L2024.6 590.5 L2026.1 577.6 L2027.6 597.2 L2029.1 578.5 L2030.7 594.4 L2032.3 583.9 L2033.9 603.0 L2035.6 585.9 L2037.3 605.8 L2039.0 587.2 L2040.6 608.4 L2042.3 587.8 L2044.0 605.2 L2045.7 591.0 L2047.4 610.4 L2049.1 595.9 L2050.9 616.7 L2052.6 602.7 L2054.4 616.7 L2056.2 601.5 L2057.9 620.0 L2059.6 605.2 L2061.5 626.8 L2063.3 607.2 L2065.4 625.0 L2067.4 614.4 L2069.4 627.5 L2071.6 615.1 L2073.7 628.8 L2075.7 618.8 L2077.6 633.8 L2079.4 618.9 L2081.4 635.5 L2083.4 619.3 L2085.4 634.5 L2087.2 623.4 L2089.0 642.6 L2090.1 624.8 L2089.0 640.0 L2087.4 653.0" fill="none" stroke="#000" stroke-width="5.4" stroke-linejoin="round" stroke-linecap="round"/>
<path d="M1256.5 971.4 L1256.8 973.5 L1257.1 976.2 L1257.3 978.3 L1257.6 980.9 L1257.8 983.5 L1258.1 986.1 L1258.3 988.1 L1258.5 990.8 L1258.7 993.0 L1258.9 995.6 L1259.1 997.9 L1259.3 1000.6 L1259.5 1003.1 L1259.8 1006.2 L1260.0 1008.9 L1260.2 1011.2 L1260.3 1013.4 L1260.5 1016.0 L1260.7 1018.1 L1260.9 1020.6 L1261.1 1022.7 L1261.3 1025.7 L1261.5 1028.3 L1261.7 1031.2 L1261.9 1033.4 L1262.2 1036.2 L1262.4 1038.5 L1262.6 1041.6 L1262.9 1044.1 L1263.1 1046.9 L1263.4 1049.4 L1263.7 1052.7 L1264.0 1055.3 L1264.2 1057.6 L1264.4 1059.8 L1264.7 1062.9 L1265.0 1065.4 L1265.3 1068.3 L1265.5 1070.8 L1265.8 1073.7 L1266.0 1075.8 L1266.3 1078.6 L1266.6 1080.9 L1266.8 1083.6 L1267.1 1085.8 L1267.4 1088.6 L1267.7 1090.8 L1268.0 1093.7 L1268.4 1095.9 L1268.7 1098.5 L1269.0 1100.7 L1269.3 1103.6 L1269.6 1105.8 L1269.9 1108.6 L1270.1 1110.8 L1270.3 1113.3 L1270.4 1115.4 L1270.6 1118.2 L1270.8 1120.2 L1271.0 1122.8 L1271.1 1125.3 L1271.3 1128.1 L1271.5 1130.6 L1271.7 1133.8 L1271.9 1136.4 L1272.1 1138.8 L1272.2 1141.0 L1272.4 1143.6 L1272.6 1146.2 L1272.8 1149.0 L1273.0 1151.8 L1273.2 1154.5 L1273.4 1156.8 L1273.6 1159.8 L1273.8 1161.9 L1274.0 1165.0 L1274.2 1167.2 L1274.4 1170.2 L1274.6 1172.8 L1274.9 1175.8 L1275.1 1178.0 L1275.3 1180.9 L1275.5 1183.4 L1275.7 1186.3 L1276.0 1188.6 L1276.2 1191.3 L1276.4 1193.6 L1276.6 1196.0 L1276.9 1198.6 L1277.2 1201.3 L1277.5 1203.4 L1277.8 1206.0 L1278.1 1208.4 L1278.5 1211.3 L1279.0 1213.9 L1279.4 1217.0 L1279.9 1219.3 L1280.4 1222.3 L1280.9 1224.8 L1281.3 1227.5 L1281.8 1229.8 L1282.2 1232.5 L1282.7 1234.8 L1283.1 1237.3 L1283.6 1239.8 L1284.0 1242.5 L1284.4 1245.0 L1284.8 1247.9 L1285.2 1250.0 L1285.5 1252.8 L1285.9 1255.3 L1286.3 1257.7 L1286.6 1259.9 L1286.9 1262.5 L1287.2 1265.0 L1287.4 1267.9 L1287.7 1270.2 L1287.9 1273.1 L1288.1 1275.4 L1288.3 1278.2 L1288.6 1280.5 L1288.9 1283.1 L1289.7 1281.7 L1290.0 1279.2 L1290.3 1276.3 L1290.5 1274.0 L1290.7 1271.0 L1291.0 1268.7 L1291.2 1265.7 L1291.4 1263.6 L1291.7 1261.0 L1292.0 1258.8 L1292.3 1256.0 L1292.7 1254.0 L1293.0 1251.1 L1293.3 1248.7 L1293.7 1246.0 L1294.0 1243.7 L1294.3 1240.8 L1294.5 1238.6 L1294.8 1235.8 L1295.0 1233.7 L1295.2 1230.9 L1295.4 1228.8 L1295.6 1225.9 L1295.8 1223.6 L1295.9 1220.9 L1296.1 1218.6 L1296.3 1215.8 L1296.4 1213.4 L1296.6 1210.8 L1296.8 1208.4 L1296.9 1205.7 L1297.1 1203.2 L1297.2 1200.5 L1297.4 1198.0 L1297.5 1195.0 L1297.7 1192.5 L1297.8 1189.3 L1298.0 1187.0 L1298.1 1184.0 L1298.2 1181.5 L1298.3 1179.0 L1298.4 1176.6 L1298.5 1173.7 L1298.6 1171.4 L1298.7 1168.7 L1298.7 1166.2 L1298.8 1163.4 L1298.8 1161.1 L1298.9 1158.2 L1298.9 1156.1 L1299.0 1153.3 L1299.0 1151.0 L1299.1 1148.4 L1299.2 1146.0 L1299.2 1143.3 L1299.3 1140.8 L1299.4 1137.7 L1299.5 1135.6 L1299.6 1133.1 L1299.7 1130.9 L1299.8 1128.5 L1299.9 1125.9 L1300.0 1122.9 L1300.1 1120.6 L1300.2 1117.8 L1300.3 1115.6 L1300.3 1112.9 L1300.4 1110.6 L1300.4 1107.8 L1300.5 1105.7 L1300.5 1102.8 L1300.6 1100.5 L1300.6 1098.0 L1300.7 1095.9 L1300.8 1093.1 L1300.8 1090.9 L1300.9 1088.2 L1301.0 1085.6 L1301.0 1082.7 L1301.1 1080.4 L1301.2 1077.7 L1301.2 1075.6 L1301.3 1072.7 L1301.4 1070.5 L1301.4 1067.6 L1301.5 1065.4 L1301.6 1062.6 L1301.6 1060.4 L1301.7 1057.5 L1301.8 1055.3 L1301.8 1052.8 L1301.9 1050.3 L1302.0 1047.4 L1302.0 1045.1 L1302.1 1042.3 L1302.2 1040.1 L1302.3 1037.4 L1302.4 1035.1 L1302.5 1032.3 L1302.6 1030.0 L1302.6 1027.5 L1302.7 1025.1 L1302.8 1022.3 L1303.0 1020.0 L1303.1 1017.4 L1303.2 1015.0 L1303.3 1012.3 L1303.4 1010.1 L1303.5 1007.5 L1303.6 1005.0 L1303.7 1002.4 L1303.9 1000.1 L1304.0 997.3 L1304.1 994.8 L1304.3 992.4 L1304.4 990.3 L1304.5 987.6 L1304.6 985.3 L1304.8 982.7 L1304.9 980.5 L1305.1 977.6 L1305.2 975.3 L1305.3 972.5 L1305.5 970.1 L1305.7 967.2 L1305.8 965.1 L1306.0 962.1 L1306.1 959.7 L1306.3 956.9 L1306.5 954.6 L1306.7 952.0 L1306.8 949.7 L1307.0 947.0 L1307.2 944.8 L1307.4 941.9 L1307.6 939.5 L1307.8 936.5 L1308.0 933.9 L1308.3 931.1 L1308.5 928.5 L1308.7 925.5 L1308.9 923.1 L1309.2 920.2 L1309.4 917.7 L1309.6 914.9 L1309.9 912.6 L1310.1 910.0 L1310.3 907.8 L1310.5 904.9 L1310.8 902.8 L1311.0 900.0 L1311.3 897.6 L1311.5 894.8 L1311.8 892.7 L1312.1 889.9 L1312.4 887.5 L1312.7 884.8 L1313.0 882.7 L1313.3 879.9 L1313.6 877.5 L1313.9 874.8 L1314.2 872.6 L1314.5 869.8 L1314.8 867.7 L1315.0 864.8 L1315.2 862.5 L1315.5 859.6 L1315.7 857.4 L1315.9 854.6 L1316.1 852.5 L1316.3 849.6 L1316.5 847.3 L1316.7 844.6 L1317.0 842.0 L1317.2 839.0 L1317.4 836.5 L1317.6 833.5 L1317.9 830.7 L1317.5 827.6 L1318.8 825.0 L1318.4 822.0 L1319.0 819.6 L1318.6 816.5 L1319.5 814.1 L1319.0 811.2 L1320.2 808.9 L1319.5 806.3 L1320.6 804.4 L1320.1 800.2 L1321.1 800.6 L1320.6 795.0 L1321.2 794.9 L1320.9 790.3 L1321.8 788.8 L1321.6 784.2 L1322.1 784.4 L1321.6 778.5 L1322.5 778.9 L1322.3 773.6 L1323.1 774.4 L1322.4 767.8 L1323.9 768.9 L1322.9 763.9 L1324.5 763.5 L1323.8 757.8 L1324.9 759.4 L1324.2 754.4 L1325.0 754.2 L1324.7 748.0 L1325.4 749.4 L1324.9 743.7 L1326.1 743.4 L1325.8 738.8 L1326.6 738.1 L1326.0 734.5 L1327.6 734.3 L1326.7 729.5 L1328.0 728.4 L1327.5 723.7 L1328.6 724.8 L1327.8 718.9 L1329.5 718.5 L1328.7 713.9 L1329.6 714.8 L1329.2 708.3 L1330.5 709.0 L1330.0 704.4 L1330.6 704.9 L1330.5 698.8 L1331.7 699.7 L1330.8 694.2 L1331.7 694.0 L1331.7 689.9 L1332.5 689.3 L1331.8 683.8 L1333.0 683.2 L1332.9 678.4 L1333.6 677.8 L1333.3 674.3 L1334.3 673.3 L1333.9 668.6 L1334.8 669.3 L1334.0 664.4 L1335.2 663.3 L1334.8 659.5 L1336.2 659.5 L1335.7 654.0 L1336.7 653.0 L1336.2 648.7 L1337.2 649.2 L1336.7 643.1 L1338.2 643.6 L1337.5 639.8 L1338.5 638.9 L1338.0 634.8 L1339.3 633.3 L1339.0 628.3 L1340.0 628.7 L1339.4 624.2 L1340.5 625.0 L1340.3 619.8 L1341.6 618.9 L1340.8 614.2 L1342.3 613.9 L1341.6 609.3 L1342.8 610.3 L1342.6 605.3 L1343.3 604.4" fill="none" stroke="#000" stroke-width="4.0" stroke-linejoin="round" stroke-linecap="round"/>
<circle cx="1300.8" cy="1114.2" r="4.7" fill="#000"/>
<line x1="1295" y1="1104.2" x2="1306" y2="1104.2" stroke="#fff" stroke-width="1.1"/>
<line x1="1295" y1="1121.6" x2="1306" y2="1121.6" stroke="#fff" stroke-width="1.1"/>
<line x1="1295" y1="1146.0" x2="1306" y2="1146.0" stroke="#fff" stroke-width="1.1"/>
<line x1="911.3" y1="467.2" x2="922.5" y2="547.4" stroke="#000" stroke-width="3.5"/><path d="M924.6 562.3 L893.7 534.3 L895.6 532.2 Q912.0 545.4 922.5 546.9 Q932.0 542.6 944.2 525.4 L946.6 526.9 Z" fill="#000" stroke="#000" stroke-width="0.6" stroke-linejoin="round"/>
<line x1="795.0" y1="859.0" x2="775.4" y2="793.4" stroke="#000" stroke-width="3.5"/><path d="M771.7 780.9 L800.9 799.3 L799.4 801.7 Q785.0 794.1 775.6 793.8 Q767.8 799.3 759.9 813.5 L757.4 812.3 Z" fill="#000" stroke="#000" stroke-width="0.6" stroke-linejoin="round"/>
<line x1="982.9" y1="912.1" x2="1056.7" y2="897.2" stroke="#000" stroke-width="3.5"/><path d="M1069.9 894.5 L1045.3 924.4 L1043.2 922.6 Q1054.9 906.2 1056.2 897.3 Q1051.5 889.5 1034.4 879.0 L1035.7 876.5 Z" fill="#000" stroke="#000" stroke-width="0.6" stroke-linejoin="round"/>
<line x1="1097.2" y1="1002.2" x2="1171.6" y2="964.3" stroke="#000" stroke-width="3.5"/><path d="M1183.8 958.1 L1167.8 997.0 L1165.2 995.9 Q1172.7 974.3 1171.1 964.5 Q1164.2 957.6 1142.3 950.9 L1142.9 948.2 Z" fill="#000" stroke="#000" stroke-width="0.6" stroke-linejoin="round"/>
<line x1="1394.7" y1="1315.0" x2="1324.3" y2="1285.5" stroke="#000" stroke-width="3.5"/><path d="M1310.5 1279.7 L1347.7 1267.9 L1348.5 1270.5 Q1331.6 1277.3 1324.8 1285.7 Q1323.6 1296.4 1330.6 1313.3 L1328.1 1314.5 Z" fill="#000" stroke="#000" stroke-width="0.6" stroke-linejoin="round"/>
<rect x="271" y="130" width="253" height="140" fill="#000"/>
<rect x="253" y="110" width="252" height="140.6" fill="#fff" stroke="#444" stroke-width="1.3"/>
<line x1="262.6" y1="146.6" x2="378" y2="146.6" stroke="#000" stroke-width="11" stroke-linecap="round"/>
<line x1="261.5" y1="215" x2="287" y2="215" stroke="#2369e6" stroke-width="7.6" stroke-linecap="round"/>
<line x1="321.5" y1="215" x2="348.5" y2="215" stroke="#2369e6" stroke-width="7.6" stroke-linecap="round"/>
<g font-family="'Liberation Sans', Arial, Helvetica, sans-serif" font-weight="bold" font-size="53.5" fill="#000">
<text x="393.5" y="164.8">DTA</text>
<text x="394.5" y="234.4">TG</text>
</g>
</svg>
</body></html>
